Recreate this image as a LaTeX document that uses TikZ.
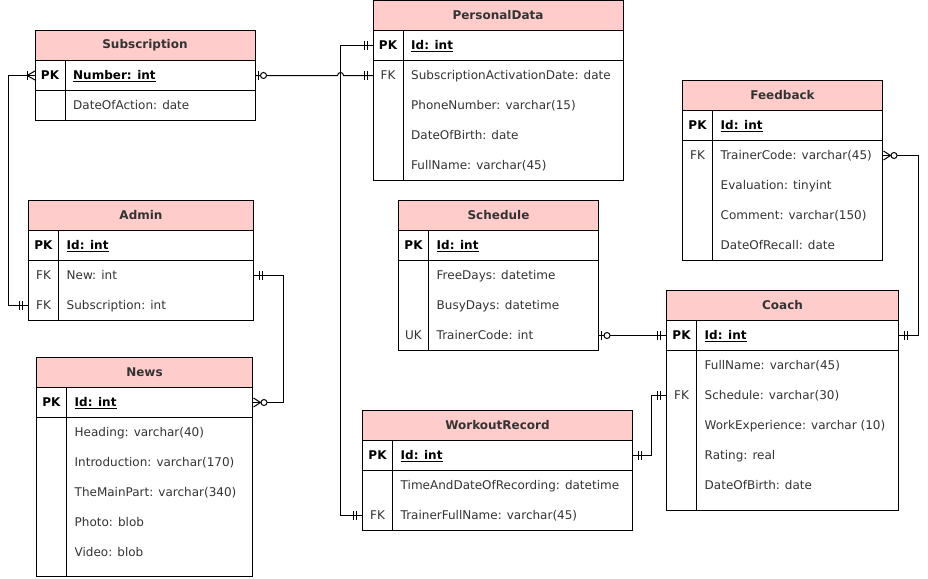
\documentclass[tikz,border=0pt]{standalone}
\usepackage{fontspec}
\setmainfont{DejaVu Sans}
\definecolor{hdrfill}{HTML}{FFCCCC}
\definecolor{txt}{HTML}{333333}
\tikzset{
  tbl/.style={draw=black, line width=1pt},
  hdr/.style={draw=black, line width=1pt, fill=hdrfill, minimum height=30pt, inner sep=0pt, outer sep=0pt, font=\fontsize{12}{14}\selectfont\bfseries, text=txt},
  rowbox/.style={minimum height=30pt, inner sep=0pt, outer sep=0pt},
  keytxt/.style={inner sep=0pt, font=\fontsize{12}{14}\selectfont, text=txt, text height=9.6pt, text depth=1pt},
  pktxt/.style={inner sep=0pt, anchor=west, font=\fontsize{12}{14}\selectfont\bfseries, text=black, text height=9.6pt, text depth=1pt},
  fldtxt/.style={inner sep=0pt, anchor=west, font=\fontsize{12}{14}\selectfont, text=txt, text height=9.6pt, text depth=1pt},
  conn/.style={draw=black, line width=1pt},
  mone/.pic={\draw[line width=1pt] (6,-4.5)--(6,4.5) (9,-4.5)--(9,4.5);},
  zone/.pic={\draw[line width=1pt] (3,-4.5)--(3,4.5); \draw[line width=1pt, fill=white] (8.5,0) circle (3);},
  zmany/.pic={\draw[line width=1pt] (1,-4.5)--(8,0)--(1,4.5); \draw[line width=1pt, fill=white] (11.5,0) circle (3);},
  omany/.pic={\draw[line width=1pt] (0,-4.5)--(8,0)--(0,4.5); \draw[line width=1pt] (8,-4.5)--(8,4.5);},
}
% #1 name, #2 x, #3 y, #4 w, #5 h, #6 title, #7 pk field, #8 rows key/text
\newcommand\ertable[8]{%
  \node[hdr, minimum width=#4, anchor=north west] (#1) at (#2,#3) {#6};
  \draw[tbl] (#2,#3) rectangle ++(#4,#5);
  \draw[tbl] (#2,#3+60) -- ++(#4,0);
  \draw[tbl] (#2+30,#3+30) -- (#2+30,#3+#5);
  \node[rowbox, minimum width=#4, anchor=west] (#1-0) at (#2,#3+45) {};
  \node[keytxt, font=\fontsize{12}{14}\selectfont\bfseries, text=black] at (#2+15,#3+45) {PK};
  \node[pktxt] at (#2+38,#3+45) {\underline{#7}};
  \foreach \k/\t [count=\i] in {#8} {
    \node[rowbox, minimum width=#4, anchor=west] (#1-\i) at (#2,#3+45+30*\i) {};
    \node[keytxt] at (#2+15,#3+45+30*\i) {\k};
    \node[fldtxt] at (#2+38,#3+45+30*\i) {\t};
  }%
}
\begin{document}
\begin{tikzpicture}[x=1pt, y=-1pt]
\useasboundingbox (0,0) rectangle (928,578);

\ertable{sub}{35}{30.5}{220}{90}{Subscription}{Number: int}{{}/DateOfAction: date}
\ertable{pd}{373}{0.5}{250}{180}{PersonalData}{Id: int}{FK/SubscriptionActivationDate: date, {}/PhoneNumber: varchar(15), {}/DateOfBirth: date, {}/FullName: varchar(45)}
\ertable{fb}{682.5}{80.5}{200}{180}{Feedback}{Id: int}{FK/TrainerCode: varchar(45), {}/Evaluation: tinyint, {}/Comment: varchar(150), {}/DateOfRecall: date}
\ertable{adm}{28.5}{200.5}{225}{120}{Admin}{Id: int}{FK/New: int, FK/Subscription: int}
\ertable{news}{36.5}{357.5}{216}{219}{News}{Id: int}{{}/Heading: varchar(40), {}/Introduction: varchar(170), {}/TheMainPart: varchar(340), {}/Photo: blob, {}/Video: blob}
\ertable{sch}{398.5}{200.5}{200}{150}{Schedule}{Id: int}{{}/FreeDays: datetime, {}/BusyDays: datetime, UK/TrainerCode: int}
\ertable{coach}{666.5}{290.5}{232}{220}{Coach}{Id: int}{{}/FullName: varchar(45), FK/Schedule: varchar(30), {}/WorkExperience: varchar (10), {}/Rating: real, {}/DateOfBirth: date}
\ertable{wr}{362.5}{410.5}{270}{120}{WorkoutRecord}{Id: int}{{}/TimeAndDateOfRecording: datetime, FK/TrainerFullName: varchar(45)}

% connectors
\coordinate (j1) at (337.5,75.5);
\draw[conn] (sub-0.west) -- ++(-27,0) |- (adm-2.west);
\draw[conn] (sub-0.east) -- (j1) arc[start angle=180, end angle=360, radius=3] -- (pd-1.west);
\draw[conn] (pd-0.west) -- ++(-33,0) |- (wr-2.west);
\draw[conn] (adm-1.east) -- ++(30,0) |- (news-0.east);
\draw[conn] (sch-3.east) -- (coach-0.west);
\draw[conn] (fb-1.east) -- ++(36,0) |- (coach-0.east);
\draw[conn] (wr-0.east) -- ++(19,0) |- (coach-2.west);

% markers
\pic[rotate=180] at (sub-0.west) {omany};
\pic[rotate=180] at (adm-2.west) {mone};
\pic at (sub-0.east) {zone};
\pic[rotate=180] at (pd-1.west) {mone};
\pic[rotate=180] at (pd-0.west) {mone};
\pic[rotate=180] at (wr-2.west) {mone};
\pic at (adm-1.east) {mone};
\pic at (news-0.east) {zmany};
\pic at (sch-3.east) {zone};
\pic[rotate=180] at (coach-0.west) {mone};
\pic at (fb-1.east) {zmany};
\pic at (coach-0.east) {mone};
\pic at (wr-0.east) {mone};
\pic[rotate=180] at (coach-2.west) {mone};
\end{tikzpicture}
\end{document}
